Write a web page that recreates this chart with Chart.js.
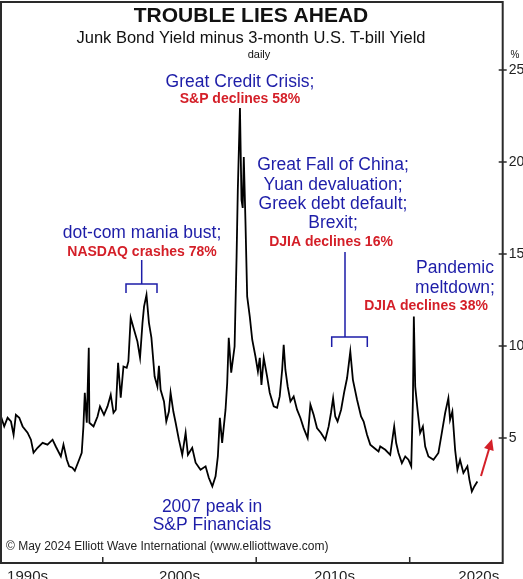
<!DOCTYPE html>
<html>
<head>
<meta charset="utf-8">
<script src="https://cdn.jsdelivr.net/npm/chart.js@4.4.1/dist/chart.umd.min.js"></script>
<style>
  html, body { margin: 0; padding: 0; background: #fff; }
  #wrap { width: 523px; height: 579px; position: relative; }
</style>
</head>
<body>
<div id="wrap"><canvas id="spreadChart"></canvas></div>
<script>
// junk bond yield minus 3-month T-bill yield (year, %)
const dates = [
  1993.37, 1993.58, 1993.80, 1994.02, 1994.19, 1994.34, 1994.56, 1994.78, 1995.10, 1995.32,
  1995.49, 1995.75, 1996.08, 1996.40, 1996.73, 1996.94, 1997.27, 1997.44, 1997.66, 1997.81,
  1998.02, 1998.18, 1998.46, 1998.63, 1998.74, 1998.83, 1998.96, 1999.09, 1999.13, 1999.40,
  1999.66, 1999.82, 2000.08, 2000.31, 2000.52, 2000.70, 2000.85, 2001.00, 2001.17, 2001.35,
  2001.56, 2001.67, 2001.82, 2002.04, 2002.26, 2002.43, 2002.59, 2002.69, 2002.85, 2003.01,
  2003.17, 2003.38, 2003.56, 2003.66, 2003.77, 2003.99, 2004.14, 2004.31, 2004.42, 2004.60,
  2004.75, 2004.96, 2005.18, 2005.40, 2005.55, 2005.83, 2006.05, 2006.37, 2006.70, 2006.91,
  2007.14, 2007.35, 2007.50, 2007.63, 2007.78, 2008.00, 2008.11, 2008.21, 2008.37, 2008.59,
  2008.72, 2008.80, 2008.94, 2009.04, 2009.12, 2009.19, 2009.30, 2009.41, 2009.58, 2009.74,
  2009.95, 2010.11, 2010.23, 2010.34, 2010.49, 2010.71, 2010.88, 2011.14, 2011.36, 2011.53,
  2011.69, 2011.79, 2011.90, 2012.05, 2012.23, 2012.44, 2012.66, 2012.88, 2013.09, 2013.35,
  2013.53, 2013.74, 2013.96, 2014.22, 2014.50, 2014.72, 2014.87, 2015.01, 2015.15, 2015.30,
  2015.53, 2015.74, 2015.92, 2016.13, 2016.30, 2016.57, 2016.83, 2017.00, 2017.22, 2017.43,
  2017.69, 2017.97, 2018.08, 2018.41, 2018.73, 2018.99, 2019.12, 2019.27, 2019.49, 2019.71,
  2019.92, 2020.10, 2020.21, 2020.27, 2020.36, 2020.51, 2020.68, 2020.86, 2021.01, 2021.22,
  2021.55, 2021.87, 2022.09, 2022.31, 2022.52, 2022.63, 2022.78, 2022.96, 2023.11, 2023.28,
  2023.50, 2023.76, 2023.89, 2024.05, 2024.21, 2024.41
];
const spread = [
  6.17, 5.63, 6.10, 5.90, 5.18, 6.26, 6.10, 5.63, 5.29, 4.91,
  4.20, 4.47, 4.74, 4.64, 4.91, 4.54, 4.00, 4.64, 3.82, 3.46,
  3.39, 3.22, 3.82, 4.20, 5.63, 7.46, 5.83, 9.90, 5.83, 5.63,
  6.17, 6.72, 6.26, 6.72, 7.35, 6.37, 6.54, 9.09, 7.19, 8.89,
  8.82, 9.16, 11.53, 10.88, 10.24, 9.36, 11.26, 12.14, 12.78, 11.26,
  10.45, 8.34, 7.80, 8.93, 7.62, 6.99, 5.90, 6.44, 7.46, 6.44,
  5.83, 4.91, 4.09, 5.29, 4.09, 4.47, 3.66, 3.28, 3.46, 2.84,
  2.37, 2.92, 4.00, 6.10, 4.74, 6.54, 8.00, 10.45, 8.55, 9.97,
  14.86, 18.48, 22.93, 17.94, 17.50, 20.27, 16.71, 12.69, 11.60, 10.34,
  9.43, 8.62, 9.36, 7.89, 9.36, 8.34, 7.46, 6.72, 6.64, 7.26,
  8.71, 10.07, 8.71, 7.80, 6.99, 7.26, 6.54, 6.09, 5.54, 5.00,
  6.81, 6.26, 5.54, 5.27, 4.91, 5.63, 6.36, 7.17, 6.17, 5.90,
  6.54, 7.53, 8.26, 9.70, 8.16, 7.08, 6.17, 5.90, 5.18, 4.64,
  4.46, 4.27, 4.54, 4.36, 4.09, 5.63, 4.73, 4.19, 3.64, 4.00,
  3.82, 3.46, 7.08, 11.60, 7.80, 6.54, 5.27, 5.63, 4.54, 4.00,
  3.82, 4.19, 5.27, 6.36, 7.17, 5.99, 6.44, 4.36, 3.28, 3.82,
  3.10, 3.46, 2.74, 2.10, 2.37, 2.64
];

const yTicks = [5, 10, 15, 20, 25];
const decadeTicks = [2000, 2010, 2020];
const decadeLabels = ['1990s', '2000s', '2010s', '2020s'];
const decadeLabelAt = [1995.1, 2005.0, 2015.1, 2024.5];

const FONT = '"Liberation Sans", Arial, sans-serif';
const BLUE = '#1d1da8';
const RED = '#d41f28';

const notes = [
  { text: 'TROUBLE LIES AHEAD', x: 251, y: 16, font: 'bold 21px', color: '#111' },
  { text: 'Junk Bond Yield minus 3-month U.S. T-bill Yield', x: 251, y: 38, font: '16.5px', color: '#111' },
  { text: 'daily', x: 259, y: 55, font: '11px', color: '#111' },
  { text: '%', x: 515, y: 55, font: '10px', color: '#111' },
  { text: 'Great Credit Crisis;', x: 240, y: 82, font: '17.5px', color: BLUE },
  { text: 'S&P declines 58%', x: 240, y: 99, font: 'bold 14px', color: RED },
  { text: 'dot-com mania bust;', x: 142, y: 233, font: '17.5px', color: BLUE },
  { text: 'NASDAQ crashes 78%', x: 142, y: 252, font: 'bold 14px', color: RED },
  { text: 'Great Fall of China;', x: 333, y: 165, font: '17.5px', color: BLUE },
  { text: 'Yuan devaluation;', x: 333, y: 185, font: '17.5px', color: BLUE },
  { text: 'Greek debt default;', x: 333, y: 204, font: '17.5px', color: BLUE },
  { text: 'Brexit;', x: 333, y: 223, font: '17.5px', color: BLUE },
  { text: 'DJIA declines 16%', x: 331, y: 242, font: 'bold 14px', color: RED },
  { text: 'Pandemic', x: 455, y: 268, font: '17.5px', color: BLUE },
  { text: 'meltdown;', x: 455, y: 288, font: '17.5px', color: BLUE },
  { text: 'DJIA declines 38%', x: 426, y: 306, font: 'bold 14px', color: RED },
  { text: '2007 peak in', x: 212, y: 507, font: '17.5px', color: BLUE },
  { text: 'S&P Financials', x: 212, y: 525, font: '17.5px', color: BLUE },
  { text: '\u00a9 May 2024 Elliott Wave International (www.elliottwave.com)', x: 6, y: 547, font: '12px', color: '#222', align: 'left' }
];

// bracket: stem from (x, top) down to bar at y, bar from x1 to x2, legs down to foot
const brackets = [
  { x: 141.7, top: 260, y: 284, x1: 126, x2: 157, foot: 293 },
  { x: 345, top: 252, y: 337, x1: 331.7, x2: 367.3, foot: 347 }
];

const overlay = {
  id: 'overlay',
  beforeDraw(chart) {
    const { ctx, width, height } = chart;
    ctx.save();
    ctx.fillStyle = '#fff';
    ctx.fillRect(0, 0, width, height);
    ctx.restore();
  },
  afterDraw(chart) {
    const { ctx, chartArea: a, scales: { x, y } } = chart;
    ctx.save();

    ctx.strokeStyle = '#2a2a2a';
    ctx.lineWidth = 2;
    ctx.strokeRect(a.left, a.top, a.right - a.left, a.bottom - a.top);

    ctx.lineWidth = 1.5;
    ctx.beginPath();
    decadeTicks.forEach(v => {
      const px = x.getPixelForValue(v);
      ctx.moveTo(px, a.bottom - 6);
      ctx.lineTo(px, a.bottom);
    });
    yTicks.forEach(v => {
      const py = y.getPixelForValue(v);
      ctx.moveTo(a.right - 4, py);
      ctx.lineTo(a.right + 4, py);
    });
    ctx.stroke();

    ctx.textBaseline = 'middle';
    notes.forEach(n => {
      ctx.font = n.font + ' ' + FONT;
      ctx.fillStyle = n.color;
      ctx.textAlign = n.align || 'center';
      ctx.fillText(n.text, n.x, n.y);
    });

    ctx.strokeStyle = BLUE;
    ctx.lineWidth = 1.5;
    brackets.forEach(b => {
      ctx.beginPath();
      ctx.moveTo(b.x, b.top);
      ctx.lineTo(b.x, b.y);
      ctx.moveTo(b.x1, b.foot);
      ctx.lineTo(b.x1, b.y);
      ctx.lineTo(b.x2, b.y);
      ctx.lineTo(b.x2, b.foot);
      ctx.stroke();
    });

    // red arrow
    const ax0 = 481, ay0 = 476, ax1 = 492, ay1 = 439;
    const ang = Math.atan2(ay1 - ay0, ax1 - ax0);
    ctx.strokeStyle = RED;
    ctx.fillStyle = RED;
    ctx.lineWidth = 2;
    ctx.beginPath();
    ctx.moveTo(ax0, ay0);
    ctx.lineTo(ax1 - 8 * Math.cos(ang), ay1 - 8 * Math.sin(ang));
    ctx.stroke();
    ctx.beginPath();
    ctx.moveTo(ax1, ay1);
    ctx.lineTo(ax1 - 11 * Math.cos(ang) + 5 * Math.sin(ang), ay1 - 11 * Math.sin(ang) - 5 * Math.cos(ang));
    ctx.lineTo(ax1 - 11 * Math.cos(ang) - 5 * Math.sin(ang), ay1 - 11 * Math.sin(ang) + 5 * Math.cos(ang));
    ctx.closePath();
    ctx.fill();

    ctx.restore();
  }
};

Chart.defaults.font.family = FONT;

const ctx = document.getElementById('spreadChart').getContext('2d');

const spreadChart = new Chart(ctx, {
  type: 'line',
  data: {
    datasets: [{
      data: dates.map((d, i) => ({ x: d, y: spread[i] })),
      borderColor: '#000',
      borderWidth: 1.8,
      pointRadius: 0,
      tension: 0,
      fill: false
    }]
  },
  options: {
    responsive: true,
    maintainAspectRatio: false,
    animation: false,
    layout: { padding: { left: 1, top: 2, right: 0, bottom: 0 } },
    plugins: {
      legend: { display: false },
      tooltip: { enabled: false }
    },
    scales: {
      x: {
        type: 'linear',
        position: 'bottom',
        min: 1993.37,
        max: 2026.06,
        afterBuildTicks: s => { s.ticks = decadeLabelAt.map(v => ({ value: v })); },
        afterFit: s => { s.height = 16; s.paddingLeft = 0; s.paddingRight = 0; },
        ticks: {
          autoSkip: false,
          maxRotation: 0,
          padding: 5,
          color: '#222',
          font: { size: 15 },
          callback: (v, i) => decadeLabels[i]
        },
        grid: { display: false, drawTicks: false },
        border: { display: false }
      },
      y: {
        position: 'right',
        min: -1.79,
        max: 28.69,
        afterBuildTicks: s => { s.ticks = yTicks.map(v => ({ value: v })); },
        afterFit: s => { s.width = 20.3; s.paddingTop = 0; s.paddingBottom = 0; },
        ticks: {
          padding: 6,
          color: '#222',
          font: { size: 14 }
        },
        grid: { display: false, drawTicks: false },
        border: { display: false }
      }
    }
  },
  plugins: [overlay]
});
</script>
</body>
</html>
